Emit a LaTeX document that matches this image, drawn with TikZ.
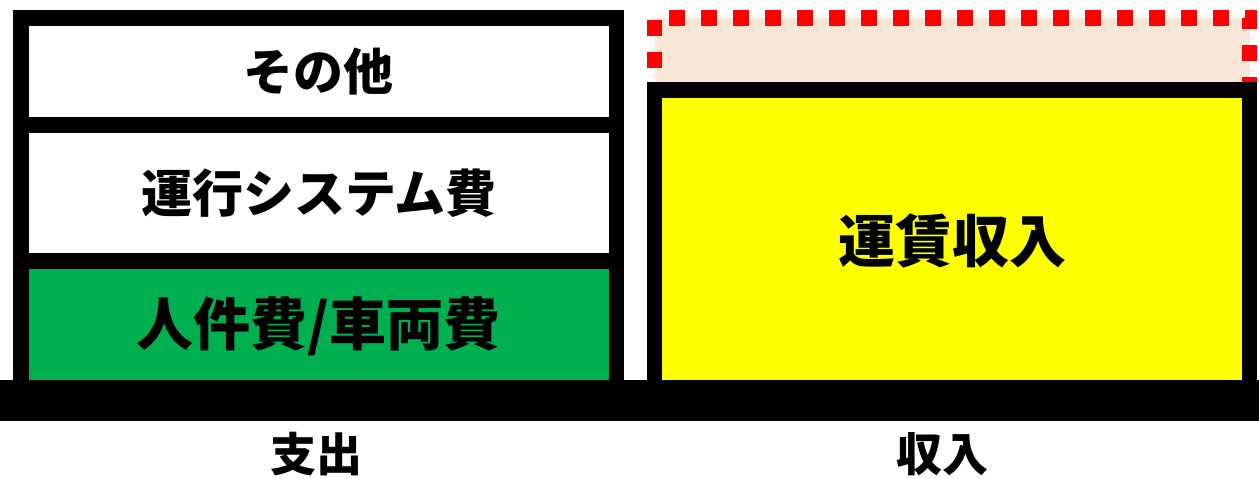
\documentclass[tikz,border=0pt]{standalone}
\usepackage{fontspec}
\newfontfamily\jp{Noto Sans CJK JP}
\definecolor{boxgreen}{HTML}{00B050}
\definecolor{boxyellow}{HTML}{FFFF00}
\definecolor{peach}{HTML}{FBE5D6}
\definecolor{dashred}{HTML}{FF0000}
\tikzset{
  blk/.style={draw=black, line width=15.5pt, rectangle, inner sep=0pt, outer sep=0pt, font=\jp\bfseries},
  lbl/.style={inner sep=0pt, font=\jp\bfseries\fontsize{46}{50}\selectfont},
}
\begin{document}
\begin{tikzpicture}[x=1pt, y=-1pt]
\useasboundingbox (0,0) rectangle (1259,479);
% left stack
\node[blk, fill=boxgreen, minimum width=595.5pt, minimum height=131pt, font=\jp\bfseries\fontsize{57}{60}\selectfont] (staff) at (318.75,326.5) {人件費/車両費};
\node[blk, fill=white, minimum width=595.5pt, minimum height=136pt, font=\jp\bfseries\fontsize{51}{60}\selectfont] (sys) at (318.75,193) {運行システム費};
\node[blk, fill=white, minimum width=595.5pt, minimum height=107pt, font=\jp\bfseries\fontsize{50}{60}\selectfont] (other) at (318.75,71.5) {その他};
% right: dashed expansion
\fill[peach] (654.5,18) rectangle (1249.5,100);
\coordinate (d0) at (654.5,100);
\coordinate (d1) at (654.5,18);
\coordinate (d2) at (1249.5,18);
\coordinate (d3) at (1249.5,100);
\draw[dashred, line width=15.5pt, dash pattern=on 16pt off 16pt, line join=miter] (d0) -- (d1) -- (d2) -- (d3);
\node[blk, fill=boxyellow, minimum width=595pt, minimum height=302pt, font=\jp\bfseries\fontsize{57}{60}\selectfont] (fare) at (952,241) {運賃収入};
% base bar
\node[fill=black, minimum width=1259pt, minimum height=41pt, inner sep=0pt, outer sep=0pt] (base) at (629.5,400.5) {};
% labels
\node[lbl] (out) at (316,454) {支出};
\node[lbl] (in) at (942,454) {収入};
\end{tikzpicture}
\end{document}
